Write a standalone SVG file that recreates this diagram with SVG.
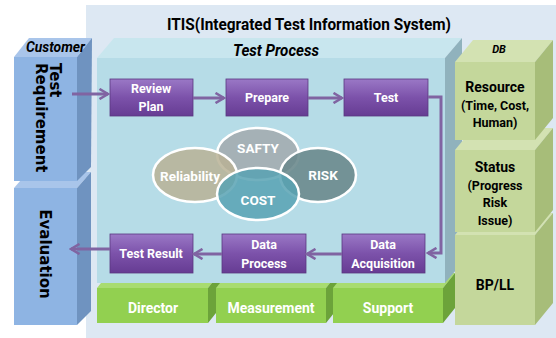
<svg xmlns="http://www.w3.org/2000/svg" width="556" height="338" viewBox="0 0 556 338">
<defs>
<linearGradient id="pg" x1="0" y1="0" x2="0" y2="1">
<stop offset="0" stop-color="#9a78c6"/>
<stop offset="0.5" stop-color="#7c52aa"/>
<stop offset="1" stop-color="#663c93"/>
</linearGradient>
<marker id="ah" viewBox="0 0 12 12" refX="10" refY="6" markerWidth="12" markerHeight="12" markerUnits="userSpaceOnUse" orient="auto">
<path d="M1.5,1 L10,6 L1.5,11" fill="none" stroke="#8064a2" stroke-width="2.6" stroke-linejoin="miter"/>
</marker>
</defs>
<style>
.t{font-family:Roboto,"Noto Sans","Liberation Sans",sans-serif;font-weight:bold}
.w{fill:#ffffff}
.k{fill:#000000}
.pb{fill:url(#pg);stroke:#5a3780;stroke-width:0.8}
.cf{fill:#8eb4e3}.cs{fill:#6f93c0}.ct{fill:#a9c5ea}
.gf{fill:#92d050}.gs{fill:#6ca33a}.gt{fill:#a8dc70}
.df{fill:#c4d79b}.ds{fill:#a7bd79}.dt{fill:#d3e2b2}
.edge{fill:none;stroke:#8064a2;stroke-width:3;marker-end:url(#ah)}
.el{stroke:#ffffff;stroke-width:2.5}
</style>
<rect x="0" y="0" width="556" height="338" fill="#ffffff"/>
<rect id="itis-panel" x="86" y="5" width="470" height="333" fill="#dde8f3"/>
<text class="t k" x="167" y="30" font-size="17" textLength="284" lengthAdjust="spacingAndGlyphs">ITIS(Integrated Test Information System)</text>

<!-- green bottom blocks -->
<g id="director">
<polygon class="gt" points="97,288 109,273 220,273 208,288"/>
<polygon class="gs" points="208,288 220,273 220,308 208,323"/>
<rect class="gf" x="97" y="288" width="111" height="35"/>
<text class="t w" x="153" y="313" font-size="14" text-anchor="middle">Director</text>
</g>
<g id="measurement">
<polygon class="gt" points="216,288 228,273 338,273 326,288"/>
<polygon class="gs" points="326,288 338,273 338,308 326,323"/>
<rect class="gf" x="216" y="288" width="110" height="35"/>
<text class="t w" x="271" y="313" font-size="14" text-anchor="middle">Measurement</text>
</g>
<g id="support">
<polygon class="gt" points="333,288 345,273 455,273 443,288"/>
<polygon class="gs" points="443,288 455,273 455,308 443,323"/>
<rect class="gf" x="333" y="288" width="110" height="35"/>
<text class="t w" x="388" y="313" font-size="14" text-anchor="middle">Support</text>
</g>

<!-- Test process box -->
<g id="test-process">
<polygon points="97,58 114,38 462,38 445,58" fill="#c8e6ee"/>
<polygon points="445,58 462,38 462,263 445,283" fill="#90b2bd"/>
<rect x="97" y="58" width="348" height="225" fill="#b6dce7"/>
<text class="t k" x="233" y="56" font-size="16" font-style="italic" textLength="86" lengthAdjust="spacingAndGlyphs">Test Process</text>
</g>

<!-- Customer column -->
<g id="evaluation">
<polygon class="ct" points="14,188 28,172 91,172 77,188"/>
<polygon class="cs" points="77,188 91,172 91,311 77,325"/>
<rect class="cf" x="14" y="188" width="63" height="137"/>
<text transform="translate(40,254) rotate(90)" font-family="'DejaVu Sans',Verdana,sans-serif" font-weight="bold" font-size="15" fill="#000" text-anchor="middle">Evaluation</text>
</g>
<g id="test-requirement">
<polygon class="ct" points="14,57 29,38 92,38 77,57"/>
<polygon class="cs" points="77,57 92,38 91,167 77,181"/>
<rect class="cf" x="14" y="57" width="63" height="124"/>
<text class="t k" x="26" y="52" font-size="14" font-style="italic" textLength="59" lengthAdjust="spacingAndGlyphs">Customer</text>
<text transform="translate(50,63) rotate(90)" font-family="'DejaVu Sans',Verdana,sans-serif" font-weight="bold" font-size="15" fill="#000">Test</text>
<text transform="translate(36,63) rotate(90)" font-family="'DejaVu Sans',Verdana,sans-serif" font-weight="bold" font-size="15" fill="#000">Requirement</text>
</g>

<!-- DB column -->
<g id="bp-ll">
<polygon class="dt" points="455,235 473,213 553,213 535,235"/>
<polygon class="ds" points="535,235 553,213 553,303 535,325"/>
<rect class="df" x="455" y="235" width="80" height="90"/>
<text class="t k" x="495" y="290" font-size="14" text-anchor="middle">BP/LL</text>
</g>
<g id="status">
<polygon class="dt" points="455,150 473,128 553,128 535,150"/>
<polygon class="ds" points="535,150 553,128 553,210 535,232"/>
<rect class="df" x="455" y="150" width="80" height="82"/>
<text class="t k" x="495" y="172" font-size="14" text-anchor="middle">Status</text>
<text class="t k" x="495" y="190" font-size="12.5" text-anchor="middle">(Progress</text>
<text class="t k" x="495" y="207" font-size="12.5" text-anchor="middle">Risk</text>
<text class="t k" x="495" y="225" font-size="12.5" text-anchor="middle">Issue)</text>
</g>
<g id="resource">
<polygon class="dt" points="455,62 473,40 553,40 535,62"/>
<polygon class="ds" points="535,62 553,40 553,118 535,140"/>
<rect class="df" x="455" y="62" width="80" height="78"/>
<text class="t k" x="499" y="53" font-size="11" font-style="italic" text-anchor="middle">DB</text>
<text class="t k" x="495" y="92" font-size="14" text-anchor="middle">Resource</text>
<text class="t k" x="495" y="110" font-size="12.5" text-anchor="middle">(Time, Cost,</text>
<text class="t k" x="495" y="127" font-size="12.5" text-anchor="middle">Human)</text>
</g>

<!-- ellipses -->
<g id="safty">
<ellipse class="el" cx="258" cy="154" rx="41" ry="26" fill="#a3acb0" fill-opacity="0.9"/>
<text class="t w" x="258" y="153" font-size="13.5" text-anchor="middle">SAFTY</text>
</g>
<g id="reliability">
<ellipse class="el" cx="195" cy="175" rx="42" ry="27" fill="#b8b195" fill-opacity="0.85"/>
<text class="t w" x="190" y="181" font-size="13.5" text-anchor="middle">Reliability</text>
</g>
<g id="risk">
<ellipse class="el" cx="318" cy="175" rx="38" ry="27" fill="#6c8a8d" fill-opacity="0.9"/>
<text class="t w" x="323" y="180" font-size="13.5" text-anchor="middle">RISK</text>
</g>
<g id="cost">
<ellipse class="el" cx="258" cy="194" rx="41" ry="26" fill="#58a2b3" fill-opacity="0.85"/>
<text class="t w" x="258" y="205" font-size="13.5" text-anchor="middle">COST</text>
</g>

<!-- purple process boxes -->
<g id="review-plan">
<rect class="pb" x="110" y="79" width="83" height="37"/>
<text class="t w" x="151" y="93" font-size="12.5" text-anchor="middle">Review</text>
<text class="t w" x="151" y="111" font-size="12.5" text-anchor="middle">Plan</text>
</g>
<g id="prepare">
<rect class="pb" x="226" y="79" width="82" height="37"/>
<text class="t w" x="267" y="102" font-size="12.5" text-anchor="middle">Prepare</text>
</g>
<g id="test">
<rect class="pb" x="344" y="79" width="84" height="37"/>
<text class="t w" x="386" y="102" font-size="12.5" text-anchor="middle">Test</text>
</g>
<g id="test-result">
<rect class="pb" x="110" y="234" width="83" height="39"/>
<text class="t w" x="151" y="258" font-size="12.5" text-anchor="middle">Test Result</text>
</g>
<g id="data-process">
<rect class="pb" x="222" y="234" width="84" height="39"/>
<text class="t w" x="264" y="249" font-size="12.5" text-anchor="middle">Data</text>
<text class="t w" x="264" y="268" font-size="12.5" text-anchor="middle">Process</text>
</g>
<g id="data-acquisition">
<rect class="pb" x="342" y="234" width="83" height="39"/>
<text class="t w" x="383" y="249" font-size="12.5" text-anchor="middle">Data</text>
<text class="t w" x="383" y="268" font-size="12.5" text-anchor="middle">Acquisition</text>
</g>

<g id="connectors">
<path class="edge" d="M72,94 L108,94"/>
<path class="edge" d="M193,98 L224,98"/>
<path class="edge" d="M308,98 L342,98"/>
<path class="edge" d="M428,97 L441,97 L441,253 L428,253"/>
<path class="edge" d="M342,254 L307,254"/>
<path class="edge" d="M222,254 L194,254"/>
<path class="edge" d="M110,249 L71,249"/>
</g>
</svg>
